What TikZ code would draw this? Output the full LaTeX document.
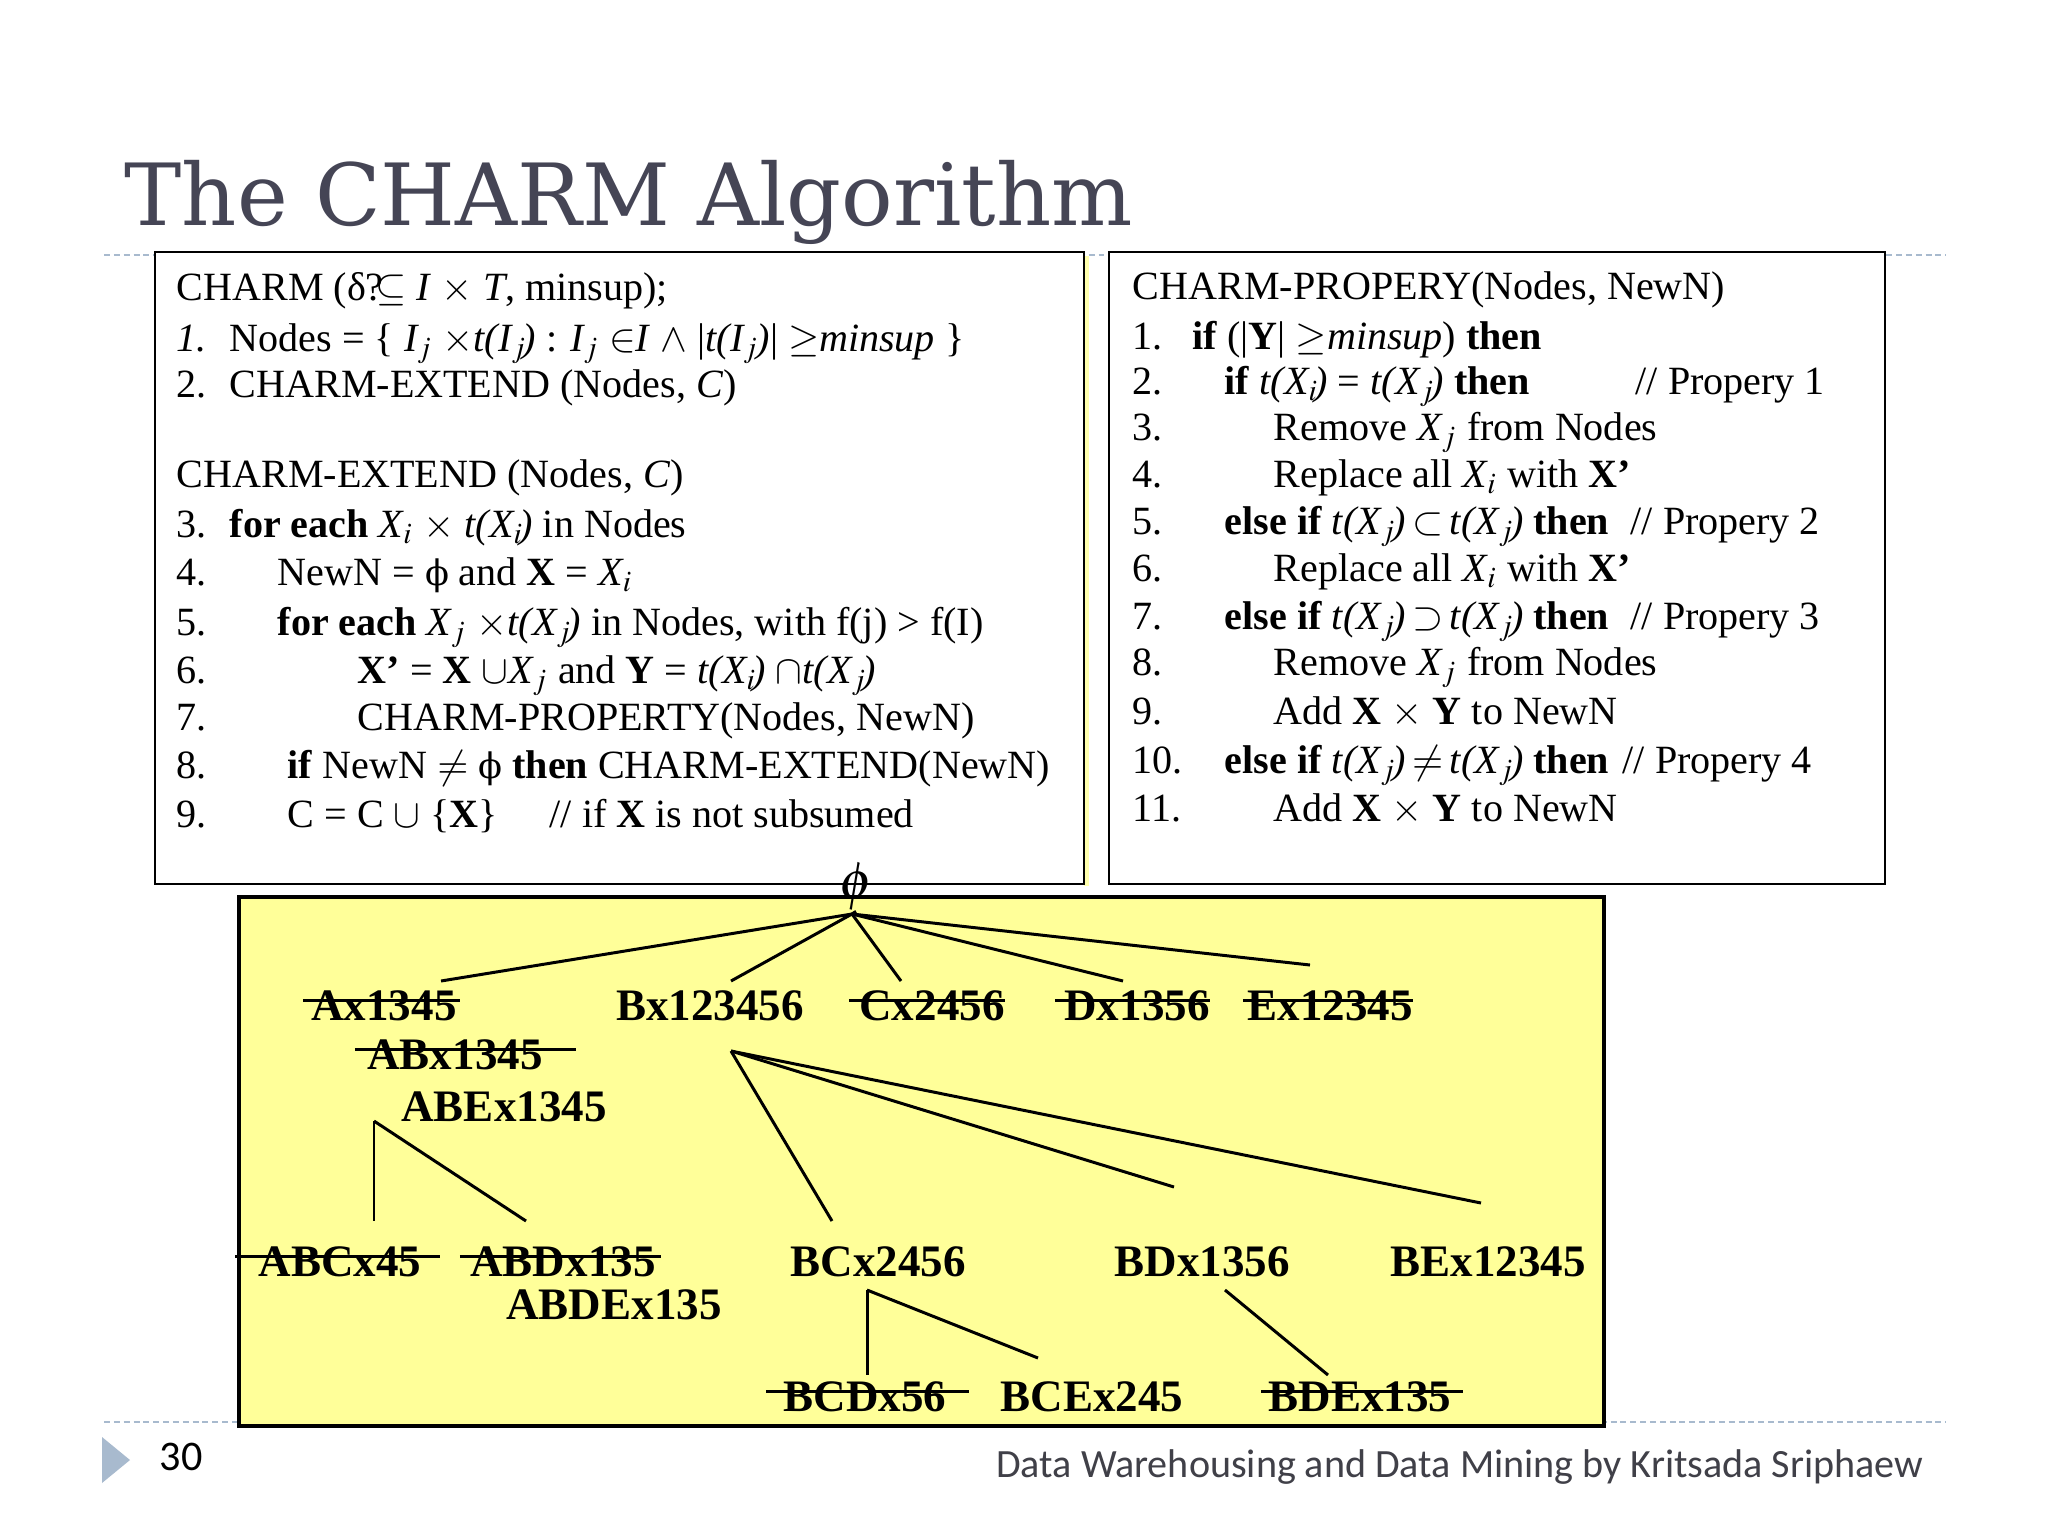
\documentclass[tikz,border=0pt]{standalone}
\usepackage{mathptmx}
\usepackage{fontspec}
\setmainfont{Liberation Serif}
\newfontfamily\titlefont{DejaVu Serif}
\newfontfamily\footfont{Carlito}
\newfontfamily\phifont{DejaVu Serif}
\usetikzlibrary{calc}
\definecolor{slideyellow}{RGB}{255,255,153}
\definecolor{titlegray}{RGB}{69,69,85}
\definecolor{rulegray}{RGB}{168,186,206}
\definecolor{footgray}{RGB}{64,64,72}
\tikzstyle{algo}=[anchor=base west,inner sep=0pt,font=\fontsize{11.4}{13}\selectfont]
\tikzstyle{iset}=[inner sep=0pt,font=\fontsize{12.8}{14}\selectfont\bfseries]
\tikzstyle{tedge}=[line width=0.85pt]
\tikzstyle{strk}=[line width=0.85pt]
\tikzstyle{rule}=[rulegray,line width=0.6pt,dash pattern=on 1.7pt off 1.1pt]

\begin{document}
\begin{tikzpicture}[x=0.01cm,y=-0.01cm]
\useasboundingbox (0,0) rectangle (2048,1536);
\fill[white] (0,0) rectangle (2048,1536);
% title and rules
\node[anchor=base west,inner sep=0pt,text=titlegray,font=\titlefont\fontsize{24.4}{26}\selectfont] (title) at (124,225) {The CHARM Algorithm};
\draw[rule] (104,255) -- (1946,255);
\draw[rule] (104,1422) -- (1946,1422);
% boxes
\fill[slideyellow!80] (1084,256) rectangle (1089,886);
\draw[fill=white,line width=0.7pt] (155,252) rectangle (1084,884);
\draw[fill=white,line width=0.7pt] (1109,252) rectangle (1885,884);
\draw[fill=slideyellow,line width=1pt] (239,897) rectangle (1604,1426);

% CHARM and CHARM-EXTEND
\node[algo] (lt0) at (176,300) {CHARM (δ?\kern-.2em$\subseteq$ \textit{I} $\times$ \textit{T}, minsup);};
\node[algo] (ln1) at (176,351) {\textit{1.}};
\node[algo] (lt1) at (229,351) {Nodes = \{ \textit{I$_j$} $\times$\textit{t(I$_j$\kern-.1em)} : \textit{I$_j$} $\in$\textit{I} $\wedge$ |\textit{t(I$_j$\kern-.05em)}| $\geq$\textit{minsup} \}};
\node[algo] (ln2) at (176,397) {2.};
\node[algo] (lt2) at (229,397) {CHARM-EXTEND (Nodes, \textit{C})};
\node[algo] (lt3) at (176,487) {CHARM-EXTEND (Nodes, \textit{C})};
\node[algo] (ln4) at (176,537) {3.};
\node[algo] (lt4) at (229,537) {\textbf{for each} \textit{X$_i$} $\times$\ \textit{t(X$_i$\kern-.1em)} in Nodes};
\node[algo] (ln5) at (176,585) {4.};
\node[algo] (lt5) at (277,585) {NewN = {\phifont\fontsize{10}{12}\selectfont ϕ} and \textbf{X} = \textit{X$_i$}};
\node[algo] (ln6) at (176,635) {5.};
\node[algo] (lt6) at (277,635) {\textbf{for each} \textit{X$_j$} $\times$\textit{t(X$_j$\kern-.1em)} in Nodes, with f(j) > f(I)};
\node[algo] (ln7) at (176,683) {6.};
\node[algo] (lt7) at (357,683) {\textbf{X’} = \textbf{X} $\cup$\textit{X$_j$} and \textbf{Y} = \textit{t(X$_i$\kern-.1em)} $\cap$\textit{t(X$_j$\kern-.1em)}};
\node[algo] (ln8) at (176,730) {7.};
\node[algo] (lt8) at (357,730) {CHARM-PROPERTY(Nodes, NewN)};
\node[algo] (ln9) at (176,778) {8.};
\node[algo] (lt9) at (287,778) {\textbf{if} NewN $\neq$ {\phifont\fontsize{10}{12}\selectfont ϕ} \textbf{then} CHARM-EXTEND(NewN)};
\node[algo] (ln10) at (176,827) {9.};
\node[algo] (lt10) at (287,827) {C = C $\cup$ \{\textbf{X}\}};
\node[algo] (lc10) at (549,827) {// if \textbf{X} is not subsumed};

% CHARM-PROPERY
\node[algo] (rt0) at (1132,299) {CHARM-PROPERY(Nodes, NewN)};
\node[algo] (rn1) at (1132,349) {1.};
\node[algo] (rt1) at (1192,349) {\textbf{if} (|\textbf{Y}| $\geq$\textit{minsup}) \textbf{then}};
\node[algo] (rn2) at (1132,394) {2.};
\node[algo] (rt2) at (1224,394) {\textbf{if} \textit{t(X$_i$\kern-.1em)} = \textit{t(X$_j$\kern-.1em)} \textbf{then}};
\node[algo] (rc2) at (1635,394) {// Propery 1};
\node[algo] (rn3) at (1132,440) {3.};
\node[algo] (rt3) at (1273,440) {Remove \textit{X$_j$} from Nodes};
\node[algo] (rn4) at (1132,487) {4.};
\node[algo] (rt4) at (1273,487) {Replace all \textit{X$_i$} with \textbf{X’}};
\node[algo] (rn5) at (1132,534) {5.};
\node[algo] (rt5) at (1224,534) {\textbf{else if} \textit{t(X$_j$\kern-.1em)}\,$\subset$\,\textit{t(X$_j$\kern-.1em)} \textbf{then}};
\node[algo] (rc5) at (1630,534) {// Propery 2};
\node[algo] (rn6) at (1132,581) {6.};
\node[algo] (rt6) at (1273,581) {Replace all \textit{X$_i$} with \textbf{X’}};
\node[algo] (rn7) at (1132,629) {7.};
\node[algo] (rt7) at (1224,629) {\textbf{else if} \textit{t(X$_j$\kern-.1em)}\,$\supset$\,\textit{t(X$_j$\kern-.1em)} \textbf{then}};
\node[algo] (rc7) at (1630,629) {// Propery 3};
\node[algo] (rn8) at (1132,675) {8.};
\node[algo] (rt8) at (1273,675) {Remove \textit{X$_j$} from Nodes};
\node[algo] (rn9) at (1132,724) {9.};
\node[algo] (rt9) at (1273,724) {Add \textbf{X} $\times$ \textbf{Y} to NewN};
\node[algo] (rn10) at (1132,773) {10.};
\node[algo] (rt10) at (1224,773) {\textbf{else if} \textit{t(X$_j$\kern-.1em)}\,$\neq$\,\textit{t(X$_j$\kern-.1em)} \textbf{then}};
\node[algo] (rc10) at (1622,773) {// Propery 4};
\node[algo] (rn11) at (1132,821) {11.};
\node[algo] (rt11) at (1273,821) {Add \textbf{X} $\times$ \textbf{Y} to NewN};

% search tree
\node[inner sep=0pt,font=\fontsize{15}{15}\selectfont] (phi) at (856,887) {$\phi$};
\node[iset] (Ax) at (384,1006) {Ax1345};
\node[iset] (Bx) at (710,1006) {Bx123456};
\node[iset] (Cx) at (932,1006) {Cx2456};
\node[iset] (Dx) at (1137,1006) {Dx1356};
\node[iset] (Ex) at (1330,1006) {Ex12345};
\node[iset] (ABx) at (455,1055) {ABx1345};
\node[iset] (ABEx) at (504,1107) {ABEx1345};
\node[iset] (ABCx) at (340,1262) {ABCx45};
\node[iset] (ABDx) at (563,1262) {ABDx135};
\node[iset] (ABDEx) at (614,1305) {ABDEx135};
\node[iset] (BCx) at (878,1262) {BCx2456};
\node[iset] (BDx) at (1202,1262) {BDx1356};
\node[iset] (BEx) at (1488,1262) {BEx12345};
\node[iset] (BCDx) at (865,1397) {BCDx56};
\node[iset] (BCEx) at (1092,1397) {BCEx245};
\node[iset] (BDEx) at (1360,1397) {BDEx135};

\coordinate (root) at (852,914);
\coordinate (toA) at (441,981);
\coordinate (toB) at (731,981);
\coordinate (toC) at (901,981);
\coordinate (toD) at (1123,981);
\coordinate (toE) at (1310,965);
\coordinate (hubB) at (731,1051);
\coordinate (toBC) at (832,1221);
\coordinate (toBD) at (1174,1187);
\coordinate (toBE) at (1481,1203);
\coordinate (hubABE) at (374,1121);
\coordinate (toABC) at (374,1221);
\coordinate (toABD) at (526,1221);
\coordinate (hubBC) at (867,1290);
\coordinate (toBCD) at (867,1375);
\coordinate (toBCE) at (1038,1358);
\coordinate (hubBD) at (1225,1290);
\coordinate (toBDE) at (1328,1375);

\draw[tedge] (phi.south) -- (root);
\draw[tedge] (root) -- (toA);
\draw[tedge] (root) -- (toB);
\draw[tedge] (root) -- (toC);
\draw[tedge] (root) -- (toD);
\draw[tedge] (root) -- (toE);
\draw[tedge] (hubB) -- (toBC);
\draw[tedge] (hubB) -- (toBD);
\draw[tedge] (hubB) -- (toBE);
\draw[tedge] (hubABE) -- (toABC);
\draw[tedge] (hubABE) -- (toABD);
\draw[tedge] (hubBC) -- (toBCD);
\draw[tedge] (hubBC) -- (toBCE);
\draw[tedge] (hubBD) -- (toBDE);

% pruned itemsets
\draw[strk] ($(Ax.west)+(-8,-6)$) -- ($(Ax.east)+(3,-6)$);
\draw[strk] ($(Cx.west)+(-10,-6)$) -- ($(Cx.east)+(0,-6)$);
\draw[strk] ($(Dx.west)+(-9,-6)$) -- ($(Dx.east)+(0,-6)$);
\draw[strk] ($(Ex.west)+(-4,-6)$) -- ($(Ex.east)+(0,-6)$);
\draw[strk] ($(ABx.west)+(-12,-6)$) -- ($(ABx.east)+(33,-6)$);
\draw[strk] ($(ABCx.west)+(-23,-6)$) -- ($(ABCx.east)+(18,-6)$);
\draw[strk] ($(ABDx.west)+(-10,-6)$) -- ($(ABDx.east)+(5,-6)$);
\draw[strk] ($(BCDx.west)+(-17,-6)$) -- ($(BCDx.east)+(22,-6)$);
\draw[strk] ($(BDEx.west)+(-7,-6)$) -- ($(BDEx.east)+(11,-6)$);

% footer
\fill[rulegray] (102,1437) -- (130,1460) -- (102,1483) -- cycle;
\node[anchor=base west,inner sep=0pt,font=\footfont\fontsize{12}{12}\selectfont] (pgno) at (159,1470) {30};
\node[anchor=base east,inner sep=0pt,text=footgray,font=\footfont\fontsize{11.4}{12}\selectfont] (foot) at (1924,1477) {Data Warehousing and Data Mining by Kritsada Sriphaew};
\end{tikzpicture}
\end{document}
